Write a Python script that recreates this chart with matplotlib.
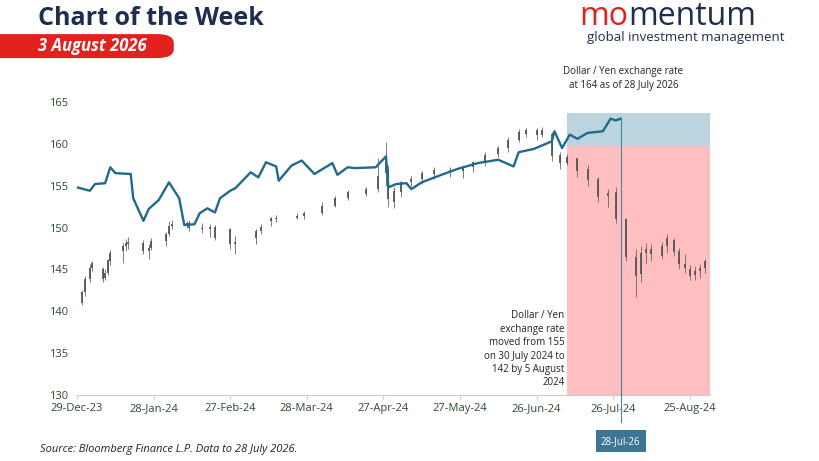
import numpy as np
import pandas as pd
import matplotlib
matplotlib.use("Agg")
import matplotlib.pyplot as plt
from matplotlib.patches import FancyBboxPatch

plt.rcParams["font.family"] = ["Open Sans", "DejaVu Sans"]

# ---- data (days after 29-Dec-2023) ----
start = pd.Timestamp("2023-12-29")

candle_day = [2, 3, 5, 6, 10, 11, 12, 13, 18, 19, 20, 26, 28, 29, 35, 36, 37, 43, 44, 49,
              52, 54, 60, 62, 70, 72, 76, 78, 86, 89, 96, 101, 106, 113, 118, 121, 122, 124,
              127, 131, 135, 140, 146, 151, 155, 160, 165, 169, 173, 176, 180, 182, 186, 189,
              192, 196, 200, 204, 208, 211, 215, 219, 221, 223, 225, 229, 231, 234, 236, 238,
              240, 242, 244, 246]
candle_open = [141.0, 142.3, 143.9, 145.2, 145.0, 144.0, 144.6, 146.0, 147.2, 147.8, 148.0, 148.1,
               147.2, 147.6, 148.4, 149.2, 150.2, 150.3, 150.5, 150.0, 149.8, 150.1, 149.8, 148.0,
               148.8, 149.6, 150.8, 151.1, 151.2, 151.4, 151.8, 152.6, 153.5, 154.0, 154.6, 158.0,
               157.0, 153.0, 154.2, 155.4, 155.8, 156.4, 156.9, 156.8, 157.2, 157.8, 158.8, 159.5,
               160.5, 161.2, 161.6, 161.1, 161.2, 158.7, 157.7, 158.3, 157.0, 155.8, 153.8, 154.2,
               151.0, 146.5, 144.5, 147.0, 147.4, 146.6, 147.8, 148.5, 147.2, 145.6, 145.0, 144.3,
               144.8, 145.2]
candle_close = [142.3, 143.9, 145.2, 145.8, 143.9, 144.6, 146.1, 147.0, 147.8, 148.2, 148.3, 147.2,
                147.6, 148.4, 149.2, 150.2, 150.4, 150.5, 150.0, 149.8, 150.1, 148.8, 148.0, 148.3,
                149.6, 150.1, 151.1, 151.0, 151.4, 151.7, 152.6, 153.5, 154.2, 154.6, 156.2, 156.5,
                153.4, 154.4, 155.4, 155.8, 156.5, 156.9, 156.8, 157.2, 157.8, 158.7, 159.5, 160.5,
                161.4, 161.6, 161.1, 161.6, 158.5, 157.7, 158.4, 156.8, 155.7, 153.7, 154.1, 151.0,
                146.5, 144.2, 147.0, 147.5, 146.8, 147.8, 148.8, 147.1, 145.6, 145.2, 144.2, 144.8,
                145.2, 146.0]
candle_low = [140.8, 141.8, 143.5, 144.8, 143.5, 143.8, 144.3, 145.5, 145.8, 147.2, 147.5, 146.8,
              146.3, 147.3, 147.8, 149.0, 149.8, 150.0, 149.6, 149.3, 148.9, 148.5, 147.5, 146.8,
              148.0, 149.2, 150.2, 150.7, 151.0, 151.0, 151.5, 152.4, 153.3, 153.8, 154.2, 155.0,
              152.5, 152.3, 153.6, 155.0, 155.2, 155.8, 156.0, 155.9, 156.6, 157.4, 158.4, 159.0,
              160.2, 160.8, 160.5, 160.8, 158.0, 157.0, 157.5, 156.0, 155.0, 153.0, 152.5, 150.5,
              146.0, 141.7, 143.5, 145.8, 146.0, 146.2, 147.0, 146.6, 145.0, 144.6, 143.7, 143.8,
              144.0, 144.6]
candle_high = [142.5, 144.2, 145.6, 146.0, 145.3, 145.0, 146.3, 147.3, 148.1, 148.6, 148.9, 148.5,
               148.0, 148.7, 149.5, 150.8, 150.9, 150.8, 150.9, 150.6, 150.4, 150.3, 150.0, 149.0,
               149.8, 150.4, 151.3, 151.5, 151.7, 152.0, 153.0, 153.8, 154.5, 154.9, 158.3, 160.2,
               157.5, 154.8, 155.6, 156.2, 156.7, 157.2, 157.2, 157.5, 158.0, 159.0, 159.8, 160.8,
               161.8, 161.9, 161.9, 162.0, 161.4, 159.0, 158.8, 158.2, 157.5, 156.0, 154.6, 154.8,
               151.2, 147.5, 147.8, 148.2, 148.0, 148.3, 149.2, 148.8, 147.6, 146.8, 145.5, 145.4,
               145.7, 146.3]

line_day = [0, 5, 7, 11, 13, 15, 21, 22, 26, 28, 32, 36, 40, 42, 46, 48, 51, 54, 56, 60, 62, 68,
            71, 74, 78, 79, 84, 88, 93, 100, 102, 106, 109, 117, 121, 122, 125, 129, 131, 135, 141,
            149, 157, 165, 171, 173, 179, 186, 187, 190, 193, 196, 200, 206, 209, 211, 213]
line_val = [154.8, 154.4, 155.2, 155.3, 157.2, 156.5, 156.4, 153.5, 150.8, 152.2, 153.3, 155.4,
            153.5, 150.3, 150.4, 151.7, 152.3, 151.8, 153.5, 154.4, 154.7, 156.6, 156.0, 157.8,
            157.3, 155.6, 157.4, 158.0, 156.4, 157.7, 156.3, 157.2, 157.1, 157.2, 158.5, 154.8,
            155.2, 155.3, 154.6, 155.4, 156.1, 157.0, 157.7, 158.1, 157.3, 159.0, 159.4, 160.3,
            161.5, 159.5, 161.1, 160.6, 161.3, 161.5, 163.0, 162.8, 163.0]

tick_labels = ["29-Dec-23", "28-Jan-24", "27-Feb-24", "28-Mar-24", "27-Apr-24",
               "27-May-24", "26-Jun-24", "26-Jul-24", "25-Aug-24"]
marker_date = pd.Timestamp("2024-07-29")
box_start, box_end = pd.Timestamp("2024-07-08"), pd.Timestamp("2024-09-02")
box_split, box_top = 159.8, 163.7

navy = "#1f2d4e"
red = "#e3211c"
blue = "#1f6a8d"

fig = plt.figure(figsize=(8.2, 4.61), dpi=100)
ax = fig.add_axes([0.094, 0.143, 0.772, 0.654])

cd = [start + pd.Timedelta(days=d) for d in candle_day]
ld = [start + pd.Timedelta(days=d) for d in line_day]

# shaded regions
ax.axvspan(box_start, box_end, ymin=0, ymax=(box_split - 130) / 36, color="#ffbfc1", lw=0, zorder=0)
ax.axvspan(box_start, box_end, ymin=(box_split - 130) / 36, ymax=(box_top - 130) / 36,
           color="#bcd4de", lw=0, zorder=0)

# candles
ax.vlines(cd, candle_low, candle_high, color="#666666", lw=0.6, zorder=2)
ax.vlines(cd, np.minimum(candle_open, candle_close), np.maximum(candle_open, candle_close),
          color="#555555", lw=1.3, zorder=2)

ax.plot(ld, line_val, color=blue, lw=1.7, zorder=3)

ax.axvline(marker_date, ymin=-0.09, ymax=(163 - 130) / 36, color="#4a82a0", lw=0.8,
           clip_on=False, zorder=4)

ax.set_ylim(130, 166)
ax.set_xlim(start, box_end)
ax.set_yticks([130, 135, 140, 145, 150, 155, 160, 165])
ticks = [start + pd.Timedelta(days=30 * i) for i in range(len(tick_labels))]
ax.set_xticks(ticks)
ax.set_xticklabels(tick_labels)
ax.tick_params(axis="both", length=0, labelsize=8, colors="#2e4a2e", pad=4)
ax.tick_params(axis="x", length=3, color="#cccccc", pad=3)
ax.tick_params(axis="y", pad=20)
for lab in ax.get_yticklabels():
    lab.set_horizontalalignment("left")
for s in ["top", "right", "left"]:
    ax.spines[s].set_visible(False)
ax.spines["bottom"].set_color("#cccccc")

ax.text(start + pd.Timedelta(days=214), 166.3,
        "Dollar / Yen exchange rate\nat 164 as of 28 July 2026",
        ha="center", va="bottom", fontsize=7, color="#222222", linespacing=1.4)
ax.text(start + pd.Timedelta(days=191), 130.8,
        "Dollar / Yen\nexchange rate\nmoved from 155\non 30 July 2024 to\n142 by 5 August\n2024",
        ha="right", va="bottom", fontsize=7, color="#222222", linespacing=1.3)
ax.text(marker_date, 124.5, "28-Jul-26", ha="center", va="center", fontsize=7, color="white",
        bbox=dict(boxstyle="square,pad=0.55", fc="#3d7594", ec="none"), clip_on=False)

# header
fig.text(0.046, 0.96, "Chart of the Week", fontsize=18, fontweight="bold", color=navy,
         va="center")
fig.patches.append(FancyBboxPatch((-0.02, 0.874), 0.232, 0.052,
                                  boxstyle="round,pad=0,rounding_size=0.02",
                                  transform=fig.transFigure, fc=red, ec="none"))
fig.text(0.046, 0.9, "3 August 2026", fontsize=12, fontweight="bold", style="italic",
         color="white", va="center")
t1 = fig.text(0.706, 0.965, "mo", fontsize=23, color=red, va="center")
fig.canvas.draw()
bb = t1.get_window_extent().transformed(fig.transFigure.inverted())
fig.text(bb.x1, 0.965, "mentum", fontsize=23, color=navy, va="center")
fig.text(0.716, 0.918, "global investment management", fontsize=9.5, color=navy, va="center")

fig.text(0.049, 0.02, "Source: Bloomberg Finance L.P. Data to 28 July 2026.", fontsize=8,
         style="italic", color="#222222")

fig.savefig("out.png", dpi=100)
